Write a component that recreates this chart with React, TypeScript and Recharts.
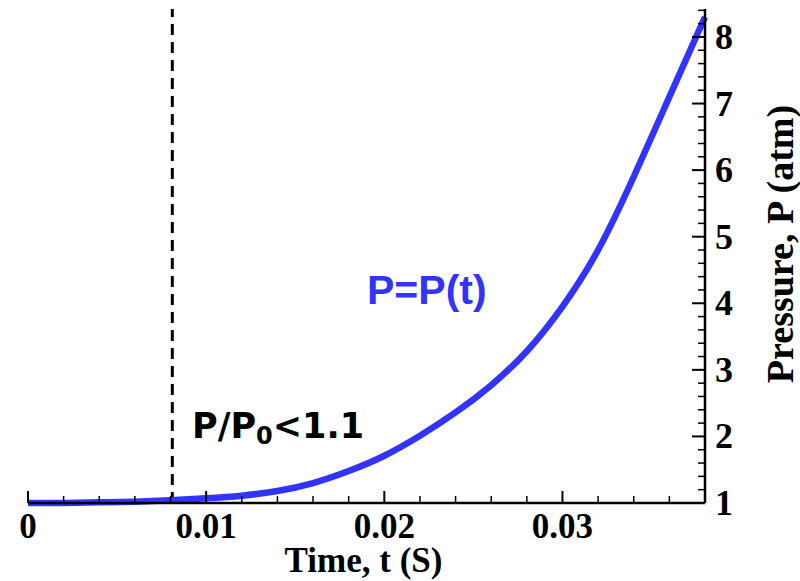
import { Line, LineChart, ReferenceLine, XAxis, YAxis, Label } from "recharts";

const time = [
  0, 0.002, 0.004, 0.006, 0.008, 0.01, 0.012, 0.014, 0.016, 0.018, 0.02, 0.022, 0.024, 0.026, 0.028, 0.03,
  0.032, 0.034, 0.036, 0.038,
];
const pressure = [
  1.0, 1.0, 1.01, 1.02, 1.04, 1.07, 1.11, 1.18, 1.3, 1.48, 1.71, 2.01, 2.36, 2.77, 3.28, 3.95, 4.8, 5.9, 7.1,
  8.3,
];

const xTicks = [
  0, 0.002, 0.004, 0.006, 0.008, 0.01, 0.012, 0.014, 0.016, 0.018, 0.02, 0.022, 0.024, 0.026, 0.028, 0.03,
  0.032, 0.034, 0.036, 0.038,
];
const xMajor = [0, 0.01, 0.02, 0.03];
const yTicks = [
  1, 1.2, 1.4, 1.6, 1.8, 2, 2.2, 2.4, 2.6, 2.8, 3, 3.2, 3.4, 3.6, 3.8, 4, 4.2, 4.4, 4.6, 4.8, 5, 5.2, 5.4, 5.6,
  5.8, 6, 6.2, 6.4, 6.6, 6.8, 7, 7.2, 7.4, 7.6, 7.8, 8, 8.2, 8.4,
];
const thresholdTime = 0.0081;

const data = time.map((t, i) => ({ t, p: pressure[i] }));

const serif = "'Liberation Serif', 'Times New Roman', serif";
const BLUE = "#3333ff";

function XTick(props: any) {
  const { x, y, payload } = props;
  const v = payload.value as number;
  const major = xMajor.some((m) => Math.abs(m - v) < 1e-9);
  return (
    <g>
      <line x1={x} x2={x} y1={y} y2={y - (major ? 12 : 7)} stroke="#000" strokeWidth={major ? 2 : 1.5} />
      {major && (
        <text x={x} y={y + 35} textAnchor="middle" fontFamily={serif} fontWeight="bold" fontSize={35} fill="#000">
          {v === 0 ? "0" : v.toFixed(2)}
        </text>
      )}
    </g>
  );
}

function YTick(props: any) {
  const { x, y, payload } = props;
  const v = payload.value as number;
  const major = Math.abs(v - Math.round(v)) < 1e-6;
  return (
    <g>
      <line x1={x} x2={x - (major ? 13 : 7)} y1={y} y2={y} stroke="#000" strokeWidth={major ? 2 : 1.5} />
      {major && (
        <text x={x + 10} y={y + 12} textAnchor="start" fontFamily={serif} fontWeight="bold" fontSize={36} fill="#000">
          {Math.round(v)}
        </text>
      )}
    </g>
  );
}

export default function App() {
  return (
    <div style={{ position: "absolute", left: 0, top: 0, width: 800, height: 581, background: "#fff" }}>
      <LineChart width={800} height={581} data={data} margin={{ top: 9, right: 0, bottom: 0, left: 28 }}>
        <XAxis
          xAxisId="b"
          dataKey="t"
          type="number"
          domain={[0, 0.038]}
          ticks={xTicks}
          interval={0}
          height={78}
          tickSize={0}
          tickMargin={0}
          tickLine={false}
          tick={<XTick />}
          axisLine={{ stroke: "#000", strokeWidth: 2.5 }}
        >
          <Label
            content={(p: any) => (
              <text
                x={p.viewBox.x + p.viewBox.width / 2 - 3}
                y={p.viewBox.y + 69}
                textAnchor="middle"
                fontFamily={serif}
                fontWeight="bold"
                fontSize={35}
                fill="#000"
              >
                Time, t (S)
              </text>
            )}
          />
        </XAxis>
        <XAxis
          xAxisId="top"
          orientation="top"
          type="number"
          domain={[0, 0.038]}
          height={0}
          tick={false}
          tickLine={false}
          axisLine={{ stroke: "#000", strokeWidth: 2.5 }}
        />
        <YAxis
          yAxisId="r"
          orientation="right"
          type="number"
          domain={[1, 8.42]}
          ticks={yTicks}
          interval={0}
          width={95}
          tickSize={0}
          tickMargin={0}
          tickLine={false}
          tick={<YTick />}
          axisLine={{ stroke: "#000", strokeWidth: 2.5 }}
        >
          <Label
            content={(p: any) => {
              const cx = p.viewBox.x + 88;
              const cy = p.viewBox.y + p.viewBox.height / 2 - 12;
              return (
                <text
                  x={cx}
                  y={cy}
                  transform={`rotate(-90 ${cx} ${cy})`}
                  textAnchor="middle"
                  fontFamily={serif}
                  fontWeight="bold"
                  fontSize={38}
                  fill="#000"
                >
                  Pressure, P (atm)
                </text>
              );
            }}
          />
        </YAxis>
        <YAxis
          yAxisId="left"
          orientation="left"
          type="number"
          domain={[1, 8.42]}
          width={0}
          tick={false}
          tickLine={false}
          axisLine={{ stroke: "#000", strokeWidth: 2.5 }}
        />
        <ReferenceLine
          xAxisId="b"
          yAxisId="r"
          x={thresholdTime}
          stroke="#000"
          strokeWidth={3}
          strokeDasharray="11 7"
        />
        <Line
          xAxisId="b"
          yAxisId="r"
          dataKey="p"
          type="natural"
          stroke={BLUE}
          strokeWidth={6.5}
          dot={false}
          isAnimationActive={false}
        />
        <text x={192} y={438} fontFamily="'DejaVu Sans', Verdana, sans-serif" fontWeight="bold" fontSize={35} fill="#000">
          P/P
          <tspan fontSize={24} dy={6}>
            0
          </tspan>
          <tspan dy={-6}>{"<1.1"}</tspan>
        </text>
        <text x={367} y={304} fontFamily="'Liberation Sans', Arial, sans-serif" fontWeight="bold" fontSize={41} fill={BLUE}>
          P=P(t)
        </text>
      </LineChart>
    </div>
  );
}
